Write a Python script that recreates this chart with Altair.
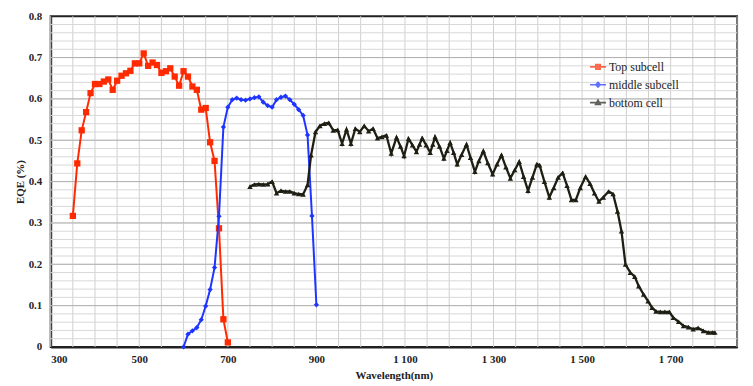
import altair as alt
import pandas as pd

series_names = ["Top subcell", "middle subcell", "bottom cell"]
series_colors = ["#ff2a00", "#1f35ff", "#1e1e12"]

top_wl = list(range(350, 701, 10))
top_eqe = [0.317, 0.444, 0.524, 0.568, 0.614, 0.636, 0.636, 0.642, 0.647, 0.622,
           0.644, 0.656, 0.662, 0.668, 0.686, 0.686, 0.710, 0.680, 0.688, 0.682,
           0.663, 0.667, 0.674, 0.654, 0.632, 0.667, 0.654, 0.630, 0.622, 0.574,
           0.578, 0.495, 0.450, 0.287, 0.067, 0.011]

mid_wl = list(range(600, 901, 10))
mid_eqe = [0.000, 0.031, 0.039, 0.047, 0.066, 0.099, 0.139, 0.192, 0.316, 0.532,
           0.580, 0.598, 0.602, 0.598, 0.597, 0.600, 0.603, 0.605, 0.592, 0.584,
           0.580, 0.598, 0.604, 0.607, 0.598, 0.587, 0.574, 0.560, 0.513, 0.317,
           0.102]

bot_wl = [750, 760, 770, 780, 790, 800, 810, 820, 830, 840, 850, 860, 870, 880, 888,
          898, 908, 918, 928, 938, 948, 958, 968, 978, 988, 998, 1008, 1018, 1028, 1038,
          1048, 1058, 1069, 1081, 1090, 1098, 1108, 1117, 1126, 1133, 1139, 1148, 1157, 1163,
          1168, 1178, 1188, 1195, 1202, 1210, 1218, 1228, 1239, 1248, 1258, 1267, 1277, 1287,
          1298, 1308, 1318, 1328, 1338, 1348, 1358, 1368, 1378, 1388, 1398, 1404, 1415, 1426,
          1436, 1446, 1456, 1466, 1476, 1486, 1496, 1508, 1518, 1528, 1538, 1548, 1560, 1570,
          1580, 1589, 1598, 1609, 1619, 1628, 1639, 1649, 1658, 1667, 1677, 1687, 1697, 1706,
          1718, 1729, 1740, 1751, 1762, 1774, 1785, 1795, 1800]
bot_eqe = [0.388, 0.393, 0.394, 0.393, 0.394, 0.400, 0.372, 0.378, 0.376, 0.376, 0.372, 0.370, 0.369, 0.392, 0.464,
           0.520, 0.535, 0.540, 0.542, 0.524, 0.525, 0.492, 0.526, 0.492, 0.528, 0.520, 0.535, 0.522, 0.528, 0.505,
           0.508, 0.512, 0.468, 0.507, 0.485, 0.462, 0.504, 0.488, 0.472, 0.490, 0.505, 0.488, 0.470, 0.490,
           0.508, 0.485, 0.456, 0.475, 0.494, 0.470, 0.442, 0.465, 0.490, 0.458, 0.424, 0.450, 0.474, 0.445,
           0.418, 0.442, 0.464, 0.435, 0.408, 0.428, 0.448, 0.412, 0.378, 0.410, 0.442, 0.440, 0.400, 0.362,
           0.385, 0.410, 0.421, 0.390, 0.356, 0.356, 0.385, 0.412, 0.395, 0.372, 0.352, 0.362, 0.376, 0.370,
           0.328, 0.280, 0.200, 0.180, 0.170, 0.147, 0.127, 0.111, 0.095, 0.086, 0.085, 0.085, 0.085, 0.071,
           0.061, 0.051, 0.048, 0.043, 0.046, 0.039, 0.035, 0.035, 0.035]

x_ticks = [300, 500, 700, 900, 1100, 1300, 1500, 1700]
y_ticks = [0, 0.1, 0.2, 0.3, 0.4, 0.5, 0.6, 0.7, 0.8]
x_grid = list(range(300, 1851, 50))
y_grid_minor = [round(i * 0.02, 2) for i in range(1, 40)]
y_grid_major = y_ticks[1:-1]

frames = [
    pd.DataFrame({"wl": top_wl, "eqe": top_eqe, "series": series_names[0]}),
    pd.DataFrame({"wl": mid_wl, "eqe": mid_eqe, "series": series_names[1]}),
    pd.DataFrame({"wl": bot_wl, "eqe": bot_eqe, "series": series_names[2]}),
]
df = pd.concat(frames, ignore_index=True)

FONT = "Liberation Serif"
xscale = alt.Scale(domain=[300, 1850], nice=False, zero=False)
yscale = alt.Scale(domain=[0, 0.8], nice=False)
xaxis = alt.Axis(values=x_ticks, labelExpr="replace(format(datum.value, ','), ',', ' ')",
                 title="Wavelength(nm)", grid=False, ticks=False, labelPadding=7,
                 titlePadding=5, orient="bottom")
yaxis = alt.Axis(values=y_ticks, format=".1~f", title="EQE (%)", grid=False, ticks=False,
                 labelPadding=9, titlePadding=3, orient="left")
X = alt.X("wl:Q", scale=xscale, axis=xaxis)
Y = alt.Y("eqe:Q", scale=yscale, axis=yaxis)

vgrid = alt.Chart(pd.DataFrame({"wl": x_grid})).mark_rule(color="#cfcfcf", strokeWidth=1).encode(x=X)
hgrid_minor = alt.Chart(pd.DataFrame({"eqe": y_grid_minor})).mark_rule(color="#d8d8d8", strokeWidth=1).encode(y=Y)
hgrid_major = alt.Chart(pd.DataFrame({"eqe": y_grid_major})).mark_rule(color="#b0b0b0", strokeWidth=1).encode(y=Y)

top_line = alt.Chart(pd.DataFrame({"k": [0]})).mark_rule(color="#c8c8c8", strokeWidth=1.5).encode(
    x=alt.value(-41), x2=alt.value(699), y=alt.value(-11))

marker_shapes = ["square", "diamond", "triangle-up"]
marker_sizes = [40, 28, 30]
widths = [2, 2, 2.3]

layers = [vgrid, hgrid_minor, hgrid_major, top_line]
for name, col, shp, sz, w in zip(series_names, series_colors, marker_shapes, marker_sizes, widths):
    base = alt.Chart(df).transform_filter(alt.datum.series == name)
    layers.append(base.mark_line(color=col, strokeWidth=w).encode(x=X, y=Y))
    layers.append(base.mark_point(filled=True, color=col, shape=shp, size=sz, opacity=1).encode(x=X, y=Y))

legend_paths = [
    "M-1,0H1M-0.28,-0.28H0.28V0.28H-0.28Z",
    "M-1,0H1M0,-0.3L0.28,0L0,0.3L-0.28,0Z",
    "M-1,0H1M0,-0.32L0.3,0.24H-0.3Z",
]

def leg():
    return alt.Legend(title=None, orient="none", legendX=542, legendY=42, symbolSize=256,
                      symbolStrokeWidth=1.6, labelFont=FONT, labelFontSize=12, labelColor="#222",
                      rowPadding=3, padding=0, labelOffset=2)

legend_layer = alt.Chart(df).transform_filter("false").mark_point(filled=False, strokeWidth=1.6).encode(
    x=X, y=Y,
    shape=alt.Shape("series:N", scale=alt.Scale(domain=series_names, range=legend_paths), legend=leg()),
    fill=alt.Fill("series:N", scale=alt.Scale(domain=series_names, range=series_colors), legend=leg()),
    stroke=alt.Stroke("series:N", scale=alt.Scale(domain=series_names, range=series_colors), legend=leg()),
)
layers.append(legend_layer)

chart = alt.layer(*layers).properties(
    width=691, height=333,
    autosize=alt.AutoSizeParams(type="none"),
    padding={"left": 43, "top": 7, "right": 8, "bottom": 35},
).configure_view(stroke="#222", strokeWidth=2).configure_axis(
    labelFont=FONT, labelFontWeight="bold", labelFontSize=11, labelColor="#222",
    titleFont=FONT, titleFontWeight="bold", titleFontSize=11, titleColor="#222",
    domainColor="#222", domainWidth=2,
)

chart.save("out.html", embed_options={"renderer": "svg", "actions": False})
